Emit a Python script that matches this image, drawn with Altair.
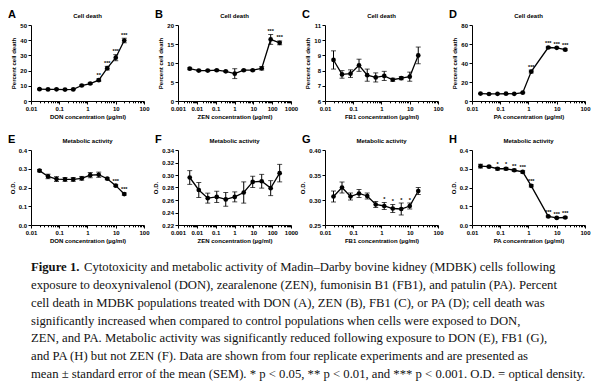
import altair as alt
import pandas as pd

# ---------------- data ----------------
DON_X = [0.02, 0.04, 0.08, 0.16, 0.3125, 0.625, 1.25, 2.5, 5, 10, 20]
ZEN_X = [0.0042, 0.0127, 0.038, 0.114, 0.343, 1.03, 3.09, 9.26, 27.8, 83.3, 250]
FB1_X = [0.02, 0.04, 0.08, 0.16, 0.3125, 0.625, 1.25, 2.5, 5, 10, 20]
PA_X = [0.02, 0.04, 0.08, 0.16, 0.3125, 0.625, 1.25, 5, 10, 20]

A_Y = [7.8, 7.6, 7.7, 7.5, 7.6, 10.2, 11.5, 13.7, 21.6, 28.5, 39.8]
A_ERR = [0.4, 0.3, 0.3, 0.3, 0.3, 0.5, 0.6, 0.8, 1.2, 2.0, 1.5]
A_SIG = ["", "", "", "", "", "", "", "**", "***", "***", "***"]

B_Y = [8.5, 8.0, 8.0, 8.1, 7.8, 7.2, 8.1, 8.1, 8.6, 16.2, 15.3]
B_ERR = [0.25, 0.2, 0.2, 0.2, 0.2, 1.3, 0.2, 0.2, 0.45, 1.3, 0.5]
B_SIG = ["", "", "", "", "", "", "", "", "", "***", "***"]

C_Y = [8.7, 7.75, 7.8, 8.35, 7.7, 7.55, 7.65, 7.4, 7.5, 7.6, 9.0]
C_ERR = [0.6, 0.25, 0.25, 0.4, 0.4, 0.3, 0.3, 0.1, 0.1, 0.3, 0.55]
C_SIG = ["", "", "", "", "", "", "", "", "", "", ""]

D_Y = [7.8, 7.4, 7.6, 7.7, 7.6, 8.8, 31.0, 56.3, 56.0, 54.0]
D_ERR = [0.4, 0.3, 0.3, 0.3, 0.3, 0.5, 1.5, 0.8, 0.6, 1.0]
D_SIG = ["", "", "", "", "", "", "***", "***", "***", "***"]

E_Y = [0.290, 0.259, 0.245, 0.243, 0.243, 0.249, 0.266, 0.268, 0.247, 0.210, 0.165]
E_ERR = [0.006, 0.012, 0.013, 0.010, 0.010, 0.010, 0.014, 0.014, 0.005, 0.005, 0.006]
E_SIG = ["", "", "", "", "", "", "", "", "", "***", "***"]

F_Y = [0.296, 0.276, 0.263, 0.265, 0.261, 0.265, 0.272, 0.289, 0.290, 0.279, 0.303]
F_ERR = [0.011, 0.012, 0.008, 0.009, 0.011, 0.008, 0.017, 0.009, 0.011, 0.012, 0.014]
F_SIG = ["", "", "", "", "", "", "", "", "", "", ""]

G_Y = [0.307, 0.325, 0.307, 0.313, 0.308, 0.291, 0.288, 0.283, 0.282, 0.288, 0.318]
G_ERR = [0.011, 0.011, 0.007, 0.008, 0.006, 0.006, 0.007, 0.008, 0.012, 0.006, 0.007]
G_SIG = ["", "", "", "", "", "", "*", "*", "*", "*", ""]

H_Y = [0.314, 0.311, 0.300, 0.300, 0.292, 0.283, 0.209, 0.046, 0.038, 0.040]
H_ERR = [0.010, 0.005, 0.007, 0.007, 0.006, 0.006, 0.006, 0.004, 0.003, 0.004]
H_SIG = ["", "", "*", "*", "**", "***", "***", "***", "***", "***"]

Y_TICKS_A = [0, 10, 20, 30, 40, 50]
Y_TICKS_B = [0, 5, 10, 15, 20]
Y_TICKS_C = [6, 7, 8, 9, 10, 11]
Y_TICKS_D = [0, 20, 40, 60, 80]
Y_TICKS_E = [0.0, 0.1, 0.2, 0.3, 0.4]
Y_TICKS_F = [0.22, 0.24, 0.26, 0.28, 0.30, 0.32, 0.34]
Y_TICKS_G = [0.25, 0.30, 0.35, 0.40]
Y_TICKS_H = [0.0, 0.1, 0.2, 0.3, 0.4]

CAPTION_HEAD = "Figure 1."
CAPTION_LINES = [
    "Cytotoxicity and metabolic activity of Madin\u2013Darby bovine kidney (MDBK) cells following",
    "exposure to deoxynivalenol (DON), zearalenone (ZEN), fumonisin B1 (FB1), and patulin (PA). Percent",
    "cell death in MDBK populations treated with DON (A), ZEN (B), FB1 (C), or PA (D); cell death was",
    "significantly increased when compared to control populations when cells were exposed to DON,",
    "ZEN, and PA. Metabolic activity was significantly reduced following exposure to DON (E), FB1 (G),",
    "and PA (H) but not ZEN (F). Data are shown from four replicate experiments and are presented as",
    "mean \u00b1 standard error of the mean (SEM). * p < 0.05, ** p < 0.01, and *** p < 0.001. O.D. = optical density.",
]

FONT = "Liberation Sans"
SERIF = "Liberation Serif"
CAP_SIZE = 12.7
W = 113


def log_ticks(lo_exp, hi_exp):
    vals = []
    for e in range(lo_exp, hi_exp):
        for m in range(1, 10):
            vals.append(float(f"{m}e{e}"))
    vals.append(float(f"1e{hi_exp}"))
    return vals


MAJOR = "abs(log(datum.value)/LN10 - round(log(datum.value)/LN10)) < 0.001"


def panel(letter, title, xs, ys, errs, sig, xexp, ydom, yvals, yfmt, xlab, ylab, h):
    df = pd.DataFrame({
        "x": xs, "y": ys,
        "lo": [y - e for y, e in zip(ys, errs)],
        "hi": [y + e for y, e in zip(ys, errs)],
        "sig": sig,
    })
    xscale = alt.Scale(type="log", domain=[10.0 ** xexp[0], 10.0 ** xexp[1]], nice=False)
    yscale = alt.Scale(domain=ydom, nice=False, zero=False)
    xaxis = alt.Axis(
        values=log_ticks(xexp[0], xexp[1]), format="~g",
        labelExpr=f"{MAJOR} ? datum.label : ''",
        tickSize={"condition": {"test": MAJOR, "value": 3}, "value": 1.8},
        labelFlush=False, labelOverlap=False, grid=False, title=xlab,
        titlePadding=2, labelPadding=1.5,
    )
    yaxis = alt.Axis(values=yvals, format=yfmt, grid=False, title=ylab,
                     tickSize=3, labelPadding=1.5, titlePadding=3)

    def X():
        return alt.X("x:Q", scale=xscale, axis=xaxis)

    def Y(f):
        return alt.Y(f"{f}:Q", scale=yscale, axis=yaxis)

    base = alt.Chart(df)
    bar = base.mark_rule(color="black", strokeWidth=1).encode(x=X(), y=Y("lo"), y2="hi:Q")
    cap_lo = base.mark_tick(color="black", orient="horizontal", size=5, thickness=1).encode(x=X(), y=Y("lo"))
    cap_hi = base.mark_tick(color="black", orient="horizontal", size=5, thickness=1).encode(x=X(), y=Y("hi"))
    line = base.mark_line(color="black", strokeWidth=1.3).encode(x=X(), y=Y("y"))
    pts = base.mark_circle(color="black", size=22, opacity=1).encode(x=X(), y=Y("y"))
    stars = base.mark_text(font=FONT, fontSize=5.5, fontWeight="bold", baseline="bottom", dy=-0.5,
                           color="black").encode(x=X(), y=Y("hi"), text="sig:N")
    lab = alt.Chart(pd.DataFrame({"t": [letter]})).mark_text(
        font=FONT, fontSize=11, fontWeight="bold", align="left", baseline="alphabetic", color="black"
    ).encode(x=alt.value(-23), y=alt.value(-7.5), text="t:N")
    ttl = alt.Chart(pd.DataFrame({"t": [title]})).mark_text(
        font=FONT, fontSize=6, fontWeight="bold", align="center", baseline="alphabetic", color="black"
    ).encode(x=alt.value(W / 2), y=alt.value(-7.5), text="t:N")
    return alt.layer(bar, cap_lo, cap_hi, line, pts, stars, lab, ttl).properties(width=W, height=h)


UG = "(\u00b5g/ml)"
pA = panel("A", "Cell death", DON_X, A_Y, A_ERR, A_SIG, (-2, 2), [0, 50], Y_TICKS_A, "d",
           f"DON concentration {UG}", "Percent cell death", 76)
pB = panel("B", "Cell death", ZEN_X, B_Y, B_ERR, B_SIG, (-3, 3), [0, 20], Y_TICKS_B, "d",
           f"ZEN concentration {UG}", "Percent cell death", 76)
pC = panel("C", "Cell death", FB1_X, C_Y, C_ERR, C_SIG, (-2, 2), [6, 11], Y_TICKS_C, "d",
           f"FB1 concentration {UG}", "Percent cell death", 76)
pD = panel("D", "Cell death", PA_X, D_Y, D_ERR, D_SIG, (-2, 2), [0, 80], Y_TICKS_D, "d",
           f"PA concentration {UG}", "Percent cell death", 76)
pE = panel("E", "Metabolic activity", DON_X, E_Y, E_ERR, E_SIG, (-2, 2), [0, 0.4], Y_TICKS_E, ".1f",
           f"DON concentration {UG}", "O.D.", 75)
pF = panel("F", "Metabolic activity", ZEN_X, F_Y, F_ERR, F_SIG, (-3, 3), [0.22, 0.34], Y_TICKS_F, ".2f",
           f"ZEN concentration {UG}", "O.D.", 75)
pG = panel("G", "Metabolic activity", FB1_X, G_Y, G_ERR, G_SIG, (-2, 2), [0.25, 0.40], Y_TICKS_G, ".2f",
           f"FB1 concentration {UG}", "O.D.", 75)
pH = panel("H", "Metabolic activity", PA_X, H_Y, H_ERR, H_SIG, (-2, 2), [0, 0.4], Y_TICKS_H, ".1f",
           f"PA concentration {UG}", "O.D.", 75)

grid = alt.concat(pA, pB, pC, pD, pE, pF, pG, pH, columns=4,
                  spacing={"row": 49, "column": 34}, bounds="flush")

cap_df = pd.DataFrame({"line": list(range(len(CAPTION_LINES))), "text": CAPTION_LINES})
cap_y = alt.Y("line:O", axis=None, scale=alt.Scale(paddingInner=0, paddingOuter=0))
cap_head = alt.Chart(pd.DataFrame({"line": [0], "text": [CAPTION_HEAD]})).mark_text(
    font=SERIF, fontSize=CAP_SIZE, fontWeight="bold", align="left", baseline="middle", color="#111111"
).encode(x=alt.value(0), y=cap_y, text="text:N")
cap_first = alt.Chart(cap_df).transform_filter("datum.line == 0").mark_text(
    font=SERIF, fontSize=CAP_SIZE, align="left", baseline="middle", color="#111111"
).encode(x=alt.value(53), y=cap_y, text="text:N")
cap_rest = alt.Chart(cap_df).transform_filter("datum.line > 0").mark_text(
    font=SERIF, fontSize=CAP_SIZE, align="left", baseline="middle", color="#111111"
).encode(x=alt.value(0), y=cap_y, text="text:N")
# invisible spacer so the caption's left edge sits 14px right of the panels' left edge
spacer = alt.Chart(pd.DataFrame({"line": [0]})).mark_rule(opacity=0, strokeOpacity=0).encode(
    x=alt.value(-14), y=alt.value(0), y2=alt.value(1))
caption = alt.layer(spacer, cap_head, cap_first, cap_rest).properties(width=554, height=125)

chart = alt.vconcat(grid, caption, spacing=14).properties(
    padding={"left": 0, "top": 0, "right": 0, "bottom": 0}, background="white"
).configure_view(stroke=None).configure_axis(
    domainColor="black", tickColor="black", labelColor="black", titleColor="black",
    labelFont=FONT, titleFont=FONT, labelFontSize=6, titleFontSize=6,
    labelFontWeight="bold", titleFontWeight="bold", domainWidth=1, tickWidth=1,
)

chart.save("out.html", embed_options={"renderer": "svg", "actions": False})
